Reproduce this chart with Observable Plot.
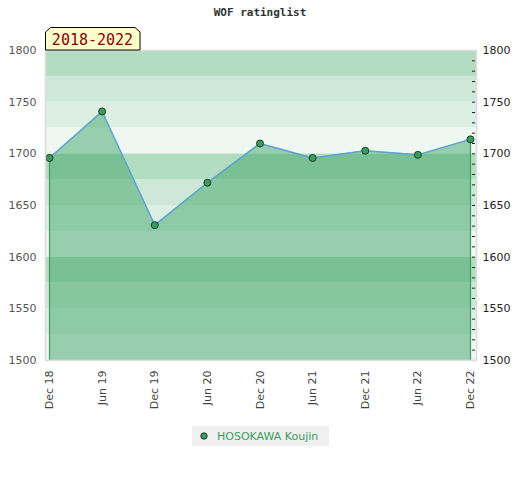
<!DOCTYPE html>
<html><head><meta charset="utf-8">
<script src="https://cdn.jsdelivr.net/npm/d3@7"></script>
<script src="https://cdn.jsdelivr.net/npm/@observablehq/plot@0.6"></script>
<style>
body{margin:0;background:#fff;}
#wrap{position:relative;width:520px;height:480px;font-family:"DejaVu Sans",sans-serif;}
#title{position:absolute;top:6px;left:0;width:520px;text-align:center;font:bold 11px "DejaVu Sans Mono",monospace;color:#333;z-index:2;}
#chart{position:absolute;top:0;left:0;}
#legend{position:absolute;left:192px;top:426px;}
</style>
</head><body>
<div id="wrap">
  <div id="chart"></div>
  <div id="title">WOF ratinglist</div>
  <div id="legend"></div>
</div>
<script>
const playerName = "HOSOKAWA Koujin";
const rangeLabel = "2018-2022";
const periods = ["Dec 18","Jun 19","Dec 19","Jun 20","Dec 20","Jun 21","Dec 21","Jun 22","Dec 22"];
const ratings = [1696,1741,1631,1672,1710,1696,1703,1699,1714];
const yTicks = [1500,1550,1600,1650,1700,1750,1800];
const minorTicks = d3.range(1510,1800,10);
const bandLows = [1500,1525,1550,1575,1600,1625,1650,1675,1700,1725,1750,1775];
const bandShades = ["#eff7f1","#dcefe2","#cde8d7","#b3ddc1"];

const data = periods.map((p,i)=>({i, period:p, rating:ratings[i]}));
const bands = bandLows.map((lo,k)=>({lo, hi:lo+25, shade:bandShades[k%4]}));

const green = "#3a9d5d";
const plot = Plot.plot({
  width:520, height:420,
  marginTop:50, marginLeft:45, marginRight:44, marginBottom:60,
  style:{fontFamily:"DejaVu Sans", fontSize:"11px", background:"transparent", overflow:"visible"},
  x:{domain:[0,periods.length-1], insetLeft:4, insetRight:6},
  y:{domain:[1500,1800]},
  color:{type:"identity"},
  marks:[
    Plot.rect(bands,{y1:"lo", y2:"hi", fill:"shade"}),
    Plot.areaY(data,{x:"i", y1:1500, y2:"rating", fill:"#40a66a", fillOpacity:0.5}),
    Plot.ruleX([data[0], data[data.length-1]],{x:"i", y1:1500, y2:"rating", stroke:green, strokeWidth:1.2}),
    Plot.line(data,{x:"i", y:"rating", stroke:"#5ba3d6", strokeWidth:1.5}),
    Plot.dot(data,{x:"i", y:"rating", r:3.5, fill:green, stroke:"#1b3b28", strokeWidth:1}),
    Plot.frame({stroke:"#dcdcdc", strokeWidth:1.5}),
    Plot.axisY({anchor:"left", ticks:yTicks, tickSize:0, tickPadding:9, tickFormat:d=>String(d), fill:"#555", label:null}),
    Plot.axisY({anchor:"right", ticks:yTicks, tickSize:0, tickPadding:6, tickFormat:d=>String(d), fill:"#222", label:null}),
    Plot.axisY({anchor:"right", ticks:minorTicks, tickSize:3, tickFormat:()=>"", dx:-5, stroke:"#222", label:null}),
    Plot.axisX({ticks:data.map(d=>d.i), tickFormat:i=>periods[i], tickRotate:-90, tickSize:0, tickPadding:10, fill:"#444", label:null})
  ]
});
document.getElementById("chart").appendChild(plot);

const svg = d3.select(plot);
const g = svg.append("g");
g.append("polygon")
  .attr("points","45.5,50 45.5,32 50.5,27.5 135,27.5 140,32 140,50")
  .attr("fill","#ffffcc").attr("stroke","#000").attr("stroke-width",1);
g.append("text").attr("x",92.5).attr("y",45).attr("text-anchor","middle")
  .attr("font-family","DejaVu Sans Mono").attr("font-size",15).attr("fill","#8b0000")
  .text(rangeLabel);

const leg = d3.select("#legend").append("svg").attr("width",137).attr("height",20);
leg.append("rect").attr("width",137).attr("height",20).attr("fill","#f0f0f0");
leg.append("circle").attr("cx",12).attr("cy",10).attr("r",3.2).attr("fill",green).attr("stroke","#1b3b28");
leg.append("text").attr("x",25).attr("y",14).attr("font-family","DejaVu Sans").attr("font-size",11)
  .attr("fill",green).text(playerName);
</script>
</body></html>
